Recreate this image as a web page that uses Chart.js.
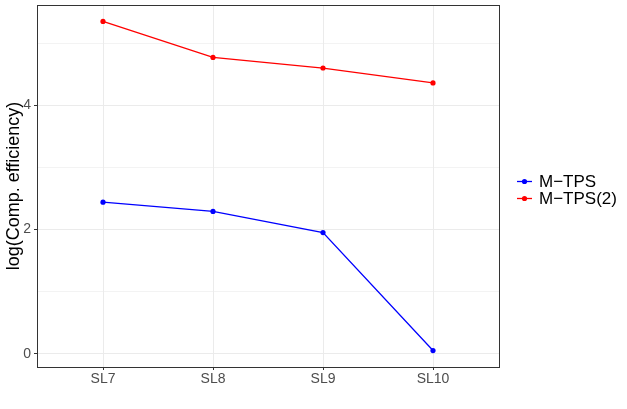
<!DOCTYPE html>
<html>
<head>
<meta charset="utf-8">
<script src="https://cdn.jsdelivr.net/npm/chart.js@4/dist/chart.umd.min.js"></script>
<style>
  html, body { margin: 0; padding: 0; background: #fff; }
  #wrap { width: 627px; height: 409px; }
</style>
</head>
<body>
<div id="wrap"><canvas id="chart" width="627" height="409"></canvas></div>
<script>
// data
const categories = ['SL7', 'SL8', 'SL9', 'SL10'];
const seriesNames = ['M\u2212TPS', 'M\u2212TPS(2)'];
const mtps = [2.44, 2.29, 1.95, 0.05];
const mtps2 = [5.35, 4.77, 4.60, 4.36];
const yMajorTicks = [0, 2, 4];
const yMinorTicks = [1, 3, 5];
const yTitle = 'log(Comp. efficiency)';

const FONT = "'Liberation Sans', Arial, sans-serif";
const GRID = '#EBEBEB';
const TICKTEXT = '#4D4D4D';

function toPoints(values) {
    return values.map((v, i) => ({ x: i, y: v }));
}

// ggplot-style expansion: 5% on continuous, 0.6 on discrete
const allVals = mtps.concat(mtps2);
const yLo = Math.min(...allVals), yHi = Math.max(...allVals);
const yPad = (yHi - yLo) * 0.05;

const panelBorder = {
    id: 'panelBorder',
    afterDatasetsDraw(chart) {
        const { ctx, chartArea: a } = chart;
        ctx.save();
        ctx.strokeStyle = '#333333';
        ctx.lineWidth = 1;
        ctx.strokeRect(Math.round(a.left) + 0.5, Math.round(a.top) + 0.5,
            Math.round(a.right - a.left), Math.round(a.bottom - a.top));
        ctx.restore();
    }
};

// legend like ggplot: short line with dot in the middle
const lineLegend = {
    id: 'lineLegend',
    afterDraw(chart) {
        const { ctx, chartArea: a } = chart;
        const sets = chart.data.datasets;
        const rowH = 17;
        const midY = (a.top + a.bottom) / 2 + 4;
        const y0 = midY - (sets.length - 1) * rowH / 2;
        const x0 = a.right + 18;
        ctx.save();
        sets.forEach((ds, i) => {
            const y = y0 + i * rowH;
            ctx.strokeStyle = ds.borderColor;
            ctx.lineWidth = 1.3;
            ctx.beginPath();
            ctx.moveTo(x0, y);
            ctx.lineTo(x0 + 15, y);
            ctx.stroke();
            ctx.fillStyle = ds.borderColor;
            ctx.beginPath();
            ctx.arc(x0 + 7.5, y, 2.6, 0, Math.PI * 2);
            ctx.fill();
            ctx.fillStyle = '#000';
            ctx.font = '17px ' + FONT;
            ctx.textBaseline = 'middle';
            ctx.textAlign = 'left';
            ctx.fillText(ds.label, x0 + 22, y + 1);
        });
        ctx.restore();
    }
};

new Chart(document.getElementById('chart').getContext('2d'), {
    type: 'line',
    data: {
        datasets: [
            { label: seriesNames[0], data: toPoints(mtps), borderColor: '#0000FF', backgroundColor: '#0000FF' },
            { label: seriesNames[1], data: toPoints(mtps2), borderColor: '#FF0000', backgroundColor: '#FF0000' }
        ]
    },
    options: {
        responsive: false,
        animation: false,
        layout: { padding: { left: 0, right: 128, top: 5, bottom: 0 } },
        elements: {
            line: { borderWidth: 1.3, tension: 0 },
            point: { radius: 2.6, borderWidth: 0, hoverRadius: 2.6 }
        },
        plugins: {
            legend: { display: false },
            tooltip: { enabled: false }
        },
        scales: {
            x: {
                type: 'linear',
                min: -0.6,
                max: categories.length - 1 + 0.6,
                afterBuildTicks(scale) {
                    scale.ticks = categories.map((c, i) => ({ value: i }));
                },
                afterFit(scale) {
                    scale.height = 42;
                    scale.paddingLeft = 0;
                    scale.paddingRight = 0;
                },
                grid: { color: GRID, lineWidth: 1, drawTicks: true, tickLength: 3, tickColor: '#333333' },
                border: { display: false },
                ticks: {
                    autoSkip: false,
                    maxRotation: 0,
                    padding: 1,
                    color: TICKTEXT,
                    font: { family: FONT, size: 14 },
                    callback: (v) => categories[v]
                }
            },
            y: {
                type: 'linear',
                min: yLo - yPad,
                max: yHi + yPad,
                afterBuildTicks(scale) {
                    scale.ticks = yMajorTicks.concat(yMinorTicks)
                        .sort((a, b) => a - b)
                        .map(v => ({ value: v }));
                },
                afterFit(scale) {
                    scale.width = 37;
                    scale.paddingTop = 0;
                    scale.paddingBottom = 0;
                },
                grid: {
                    color: GRID,
                    lineWidth: (c) => yMajorTicks.includes(c.tick.value) ? 1 : 0.6,
                    drawTicks: true,
                    tickLength: 3,
                    tickColor: (c) => yMajorTicks.includes(c.tick.value) ? '#333333' : 'rgba(0,0,0,0)'
                },
                border: { display: false },
                ticks: {
                    padding: 3,
                    color: TICKTEXT,
                    font: { family: FONT, size: 14 },
                    callback: (v) => yMajorTicks.includes(v) ? String(v) : ''
                },
                title: {
                    display: true,
                    text: yTitle,
                    color: '#000',
                    font: { family: FONT, size: 18 },
                    padding: { top: 3, bottom: 0 }
                }
            }
        }
    },
    plugins: [panelBorder, lineLegend]
});
</script>
</body>
</html>
